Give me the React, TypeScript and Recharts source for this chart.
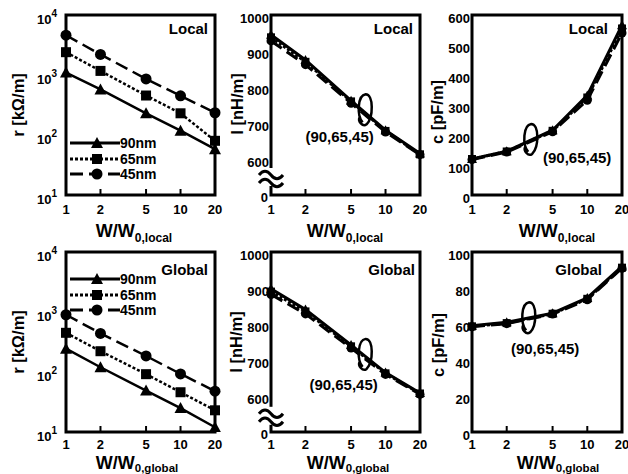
import React from "react";
import { LineChart, Line, XAxis, YAxis, ReferenceArea, ReferenceDot, Legend } from "recharts";

const FONT = "'Liberation Sans', Arial, Helvetica, sans-serif";

const widths = [1, 2, 5, 10, 20];
const nodeNames = ["90nm", "65nm", "45nm"];

// resistance r [kOhm/m]
const rLocal90 = [1100, 575, 230, 118, 58];
const rLocal65 = [2400, 1170, 455, 230, 80];
const rLocal45 = [4600, 2200, 860, 450, 235];
const rGlobal90 = [245, 120, 49, 25, 12];
const rGlobal65 = [450, 222, 92, 46, 23];
const rGlobal45 = [900, 440, 185, 93, 48];

// inductance l [nH/m]
const lLocal90 = [945, 875, 762, 680, 615];
const lLocal65 = [938, 870, 760, 678, 613];
const lLocal45 = [928, 862, 755, 675, 612];
const lGlobal90 = [898, 840, 742, 665, 608];
const lGlobal65 = [890, 835, 738, 663, 607];
const lGlobal45 = [882, 828, 733, 660, 605];

// capacitance c [pF/m]
const cLocal90 = [120, 146, 216, 332, 566];
const cLocal65 = [120, 145, 214, 325, 555];
const cLocal45 = [118, 143, 211, 316, 540];
const cGlobal90 = [59, 61, 66, 74.5, 92];
const cGlobal65 = [58.7, 60.5, 65.7, 74, 91.3];
const cGlobal45 = [58.5, 60.2, 65.5, 73.5, 91];

const rTicks = [10, 100, 1000, 10000];
const lTicks = [600, 700, 800, 900, 1000];
const cLocalTicks = [0, 100, 200, 300, 400, 500, 600];
const cGlobalTicks = [0, 20, 40, 60, 80, 100];

type Row = { w: number; n90: number; n65: number; n45: number };
const rows = (a: number[], b: number[], c: number[]): Row[] =>
  widths.map((w, i) => ({ w, n90: a[i], n65: b[i], n45: c[i] }));

const SERIES = [
  { key: "n90", name: nodeNames[0], dash: undefined as string | undefined, shape: "triangle" },
  { key: "n65", name: nodeNames[1], dash: "3 2", shape: "square" },
  { key: "n45", name: nodeNames[2], dash: "13 6", shape: "circle" },
];

function markerShape(shape: string, cx: number, cy: number, s: number, key?: string) {
  const h = s / 2;
  if (shape === "triangle")
    return (
      <polygon
        key={key}
        points={`${cx},${cy - h - 1} ${cx - h - 1},${cy + h} ${cx + h + 1},${cy + h}`}
        fill="#000"
      />
    );
  if (shape === "square") return <rect key={key} x={cx - h} y={cy - h} width={s} height={s} fill="#000" />;
  return <circle key={key} cx={cx} cy={cy} r={h + 0.5} fill="#000" />;
}

const renderXTick = (gap: number) => (props: any) => {
  const { x, y, payload } = props;
  const inner = payload.value !== 1 && payload.value !== 20;
  return (
    <g>
      {inner && <line x1={x} x2={x} y1={y - gap} y2={y - gap - 6} stroke="#000" strokeWidth={2} />}
      <text x={x} y={y} dy="0.72em" textAnchor="middle" fontSize={13} fontWeight="bold" fontFamily={FONT} fill="#000">
        {payload.value}
      </text>
    </g>
  );
};

const renderLogTick = (props: any) => {
  const { x, y, payload } = props;
  const exp = Math.round(Math.log10(payload.value));
  return (
    <text x={x} y={y} dy={9} textAnchor="end" fontSize={13} fontWeight="bold" fontFamily={FONT} fill="#000">
      <tspan>10</tspan>
      <tspan dy={-7} fontSize={10}>
        {exp}
      </tspan>
    </text>
  );
};

const renderLinTick = (props: any) => {
  const { x, y, payload } = props;
  return (
    <text x={x} y={y} dy={8} textAnchor="end" fontSize={13} fontWeight="bold" fontFamily={FONT} fill="#000">
      {String(payload.value)}
    </text>
  );
};

const Loop = (props: any) => {
  const { cx, cy, dx, dy } = props;
  return (
    <g>
      <path
        d={`M${cx - 3},${cy + 13} C${cx - 9},${cy + 6} ${cx - 8},${cy - 14} ${cx},${cy - 15} C${cx + 8},${cy - 15} ${cx + 8},${cy + 8} ${cx + 1},${cy + 15} C${cx - 3},${cy + 18} ${cx - 8},${cy + 12} ${cx - 6},${cy + 8}`}
        fill="none"
        stroke="#000"
        strokeWidth={2.5}
      />
      <text x={cx + dx} y={cy + dy} dy="0.35em" textAnchor="middle" fontSize={15} fontWeight="bold" fontFamily={FONT} fill="#000">
        (90,65,45)
      </text>
    </g>
  );
};

// axis break "≈" drawn over the y axis
const Break = (props: any) => {
  const { cx, cy } = props;
  return (
    <g>
      <rect x={cx - 4} y={cy - 9} width={8} height={18} fill="#fff" />
      <path d={`M${cx - 12},${cy - 2} q6,-7.5 12,0 t12,0`} stroke="#000" strokeWidth={3} fill="none" />
      <path d={`M${cx - 12},${cy + 6} q6,-7.5 12,0 t12,0`} stroke="#000" strokeWidth={3} fill="none" />
    </g>
  );
};

const LegendContent = (props: any) => {
  const payload = props.payload || [];
  return (
    <div style={{ fontFamily: FONT }}>
      {SERIES.filter((s) => payload.some((e: any) => e.value === s.name)).map((s) => (
        <div key={s.name} style={{ display: "flex", alignItems: "center", height: 15.7 }}>
          <svg width={50} height={14} style={{ display: "block" }}>
            <line x1={0} x2={50} y1={7} y2={7} stroke="#000" strokeWidth={3} strokeDasharray={s.dash} />
            {markerShape(s.shape, 27, 7, 10)}
          </svg>
          <span style={{ fontSize: 14, fontWeight: "bold", lineHeight: "14px", color: "#000" }}>{s.name}</span>
        </div>
      ))}
    </div>
  );
};

type PanelCfg = {
  left: number;
  top: number;
  width: number;
  yWidth: number;
  right: number;
  gap: number;
  data: Row[];
  log?: boolean;
  domain: [number, number];
  ticks: number[];
  size: number;
  stroke: number;
  legend?: { left: number; top: number };
  loop?: { x: number; y: number; dx: number; dy: number };
  brk?: number;
};

function Panel(p: PanelCfg) {
  return (
    <div style={{ position: "absolute", left: p.left, top: p.top }}>
      <LineChart width={p.width} height={237} data={p.data} margin={{ top: 15, right: p.right, bottom: 0, left: 0 }}>
        <XAxis
          dataKey="w"
          type="number"
          scale="log"
          domain={[1, 20]}
          ticks={widths}
          interval={0}
          height={42}
          axisLine={false}
          tickLine={false}
          tickSize={0}
          tickMargin={p.gap}
          tick={renderXTick(p.gap)}
        />
        <YAxis
          type="number"
          scale={p.log ? "log" : "linear"}
          domain={p.domain}
          allowDataOverflow
          ticks={p.ticks}
          interval={0}
          width={p.yWidth}
          axisLine={false}
          tickLine={false}
          tickSize={0}
          tickMargin={p.log ? 9 : 2}
          tick={p.log ? renderLogTick : renderLinTick}
        />
        <ReferenceArea
          x1={1}
          x2={20}
          y1={p.domain[0]}
          y2={p.domain[1]}
          stroke="#000"
          strokeWidth={3}
          fill="none"
          fillOpacity={0}
          ifOverflow="visible"
        />
        {p.brk !== undefined && (
          <ReferenceDot x={1} y={p.brk} r={1} ifOverflow="visible" shape={(sp: any) => <Break {...sp} />} />
        )}
        {SERIES.map((s) => (
          <Line
            key={s.key}
            dataKey={s.key}
            name={s.name}
            stroke="#000"
            strokeWidth={p.stroke}
            strokeDasharray={s.dash}
            dot={(dp: any) => markerShape(s.shape, dp.cx, dp.cy, p.size, `${s.key}-${dp.index}`)}
            activeDot={false}
            isAnimationActive={false}
            legendType="line"
          />
        ))}
        {p.loop && (
          <ReferenceDot
            x={p.loop.x}
            y={p.loop.y}
            r={1}
            ifOverflow="visible"
            shape={(sp: any) => <Loop {...sp} dx={p.loop!.dx} dy={p.loop!.dy} />}
          />
        )}
        {p.legend && (
          <Legend
            layout="vertical"
            align="center"
            verticalAlign="middle"
            content={<LegendContent />}
            wrapperStyle={{ left: p.legend.left, top: p.legend.top, width: 120, height: 48 }}
          />
        )}
      </LineChart>
    </div>
  );
}

const txt = { fontFamily: FONT, fontWeight: "bold" as const, fill: "#000" };

export default function App() {
  return (
    <div style={{ position: "absolute", left: 0, top: 0, width: 628, height: 474, background: "#fff", overflow: "hidden" }}>
      <Panel left={0} top={0} width={230} yWidth={66} right={15} gap={10} data={rows(rLocal90, rLocal65, rLocal45)} log domain={[10, 10000]} ticks={rTicks} size={10} stroke={2.5} legend={{ left: 70, top: 135 }} />
      <Panel left={210} top={0} width={230} yWidth={61} right={20} gap={10} data={rows(lLocal90, lLocal65, lLocal45)} domain={[500, 1000]} ticks={lTicks} size={8} stroke={3} brk={550} loop={{ x: 6.7, y: 738, dx: -26, dy: 27 }} />
      <Panel left={420} top={0} width={208} yWidth={52} right={6} gap={10} data={rows(cLocal90, cLocal65, cLocal45)} domain={[0, 600]} ticks={cLocalTicks} size={8} stroke={3} loop={{ x: 3.26, y: 187, dx: 46, dy: 19 }} />
      <Panel left={0} top={237} width={230} yWidth={66} right={15} gap={8} data={rows(rGlobal90, rGlobal65, rGlobal45)} log domain={[10, 10000]} ticks={rTicks} size={10} stroke={2.5} legend={{ left: 70, top: 34 }} />
      <Panel left={210} top={237} width={230} yWidth={61} right={20} gap={8} data={rows(lGlobal90, lGlobal65, lGlobal45)} domain={[500, 1000]} ticks={lTicks} size={8} stroke={3} brk={545} loop={{ x: 6.7, y: 717, dx: -22, dy: 31 }} />
      <Panel left={420} top={237} width={208} yWidth={52} right={6} gap={8} data={rows(cGlobal90, cGlobal65, cGlobal45)} domain={[0, 100]} ticks={cGlobalTicks} size={8} stroke={3} loop={{ x: 3.13, y: 63.7, dx: 16, dy: 31 }} />

      <svg width={628} height={474} style={{ position: "absolute", left: 0, top: 0, pointerEvents: "none" }}>
        <text x={208} y={33.5} textAnchor="end" fontSize={15} {...txt}>Local</text>
        <text x={413} y={33.5} textAnchor="end" fontSize={15} {...txt}>Local</text>
        <text x={608} y={33.5} textAnchor="end" fontSize={15} {...txt}>Local</text>
        <text x={208} y={274.5} textAnchor="end" fontSize={15} {...txt}>Global</text>
        <text x={415} y={274.5} textAnchor="end" fontSize={15} {...txt}>Global</text>
        <text x={602} y={274.5} textAnchor="end" fontSize={15} {...txt}>Global</text>

        {/* bottom label of the broken l axes */}
        <text x={268} y={202} textAnchor="end" fontSize={13} {...txt}>0</text>
        <text x={268} y={439} textAnchor="end" fontSize={13} {...txt}>0</text>

        <text x={18} y={105} dy="0.35em" textAnchor="middle" fontSize={16.5} transform="rotate(-90 18 105)" {...txt}>r [kΩ/m]</text>
        <text x={237} y={104} dy="0.35em" textAnchor="middle" fontSize={16.5} transform="rotate(-90 237 104)" {...txt}>l [nH/m]</text>
        <text x={437} y={112} dy="0.35em" textAnchor="middle" fontSize={16.5} transform="rotate(-90 437 112)" {...txt}>c [pF/m]</text>
        <text x={18} y={342} dy="0.35em" textAnchor="middle" fontSize={16.5} transform="rotate(-90 18 342)" {...txt}>r [kΩ/m]</text>
        <text x={236} y={342} dy="0.35em" textAnchor="middle" fontSize={16.5} transform="rotate(-90 236 342)" {...txt}>l [nH/m]</text>
        <text x={438} y={345} dy="0.35em" textAnchor="middle" fontSize={16.5} transform="rotate(-90 438 345)" {...txt}>c [pF/m]</text>

        <text x={134} y={237} textAnchor="middle" fontSize={18} {...txt}>W/W<tspan fontSize={12} dy={5}>0,local</tspan></text>
        <text x={345} y={237} textAnchor="middle" fontSize={18} {...txt}>W/W<tspan fontSize={12} dy={5}>0,local</tspan></text>
        <text x={557} y={237} textAnchor="middle" fontSize={18} {...txt}>W/W<tspan fontSize={12} dy={5}>0,local</tspan></text>
        <text x={137} y={469} textAnchor="middle" fontSize={18} {...txt}>W/W<tspan fontSize={11.5} dy={2.5}>0,global</tspan></text>
        <text x={348} y={469} textAnchor="middle" fontSize={18} {...txt}>W/W<tspan fontSize={11.5} dy={2.5}>0,global</tspan></text>
        <text x={558} y={469} textAnchor="middle" fontSize={18} {...txt}>W/W<tspan fontSize={11.5} dy={2.5}>0,global</tspan></text>
      </svg>
    </div>
  );
}
